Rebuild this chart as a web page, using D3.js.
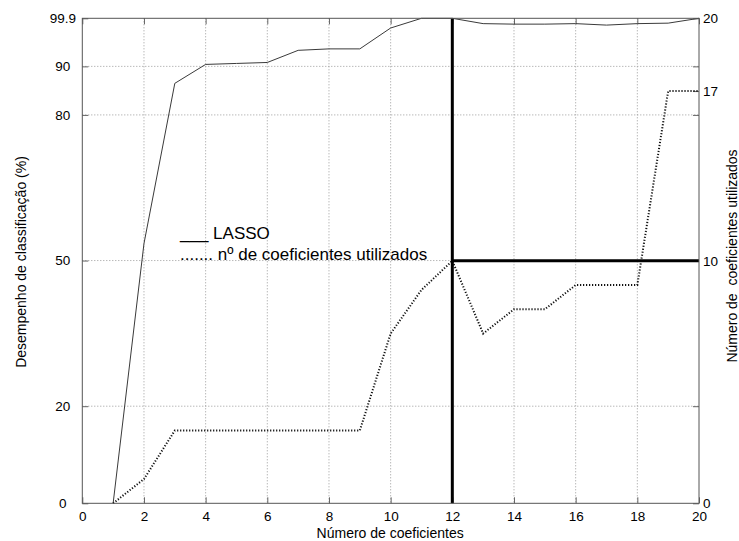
<!DOCTYPE html>
<html lang="pt">
<head>
<meta charset="UTF-8">
<title>LASSO</title>
<script src="https://cdnjs.cloudflare.com/ajax/libs/d3/7.8.5/d3.min.js"></script>
<style>
  body { margin: 0; background: #fff; }
  text { font-family: "Liberation Sans", Arial, sans-serif; fill: #000; }
</style>
</head>
<body>
<div id="chart"></div>
<script>

// numero de coeficientes (eixo x)
var nCoef = [1, 2, 3, 4, 5, 6, 7, 8, 9, 10, 11, 12, 13, 14, 15, 16, 17, 18, 19, 20];
// desempenho LASSO (%)
var lasso = [0, 53.5, 86.5, 90.4, 90.6, 90.8, 93.3, 93.6, 93.6, 97.9, 99.9, 99.9, 98.8, 98.7, 98.7, 98.8, 98.5, 98.8, 98.9, 99.9];
// numero de coeficientes utilizados
var usados = [0, 1, 3, 3, 3, 3, 3, 3, 3, 7, 8.8, 10, 7, 8, 8, 9, 9, 9, 17, 17];

var xTicks = [0, 2, 4, 6, 8, 10, 12, 14, 16, 18, 20];
var leftTicks = [0, 20, 50, 80, 90, 99.9];
var leftGrid = [20, 50, 80, 90];
var rightTicks = [0, 10, 17, 20];
var selPoint = [12, 10];   // linhas grossas (12 coeficientes, 10 utilizados)

var width = 739, height = 541;
var pLeft = 82.3, pRight = 699, pTop = 18.3, pBottom = 503.3;

var svg = d3.select('#chart').append('svg')
  .attr('width', width)
  .attr('height', height);

var x = d3.scaleLinear().domain([0, 20]).range([pLeft, pRight]);
var yL = d3.scaleLinear().domain([0, 99.9]).range([pBottom, pTop]);
var yR = d3.scaleLinear().domain([0, 20]).range([pBottom, pTop]);

// grid
var grid = svg.append('g')
  .attr('stroke', '#9a9a9a')
  .attr('stroke-width', 1)
  .attr('stroke-dasharray', '1,2');
grid.selectAll('.vg')
  .data(xTicks.filter(function(d) { return d > 0 && d < 20; }))
  .enter().append('line')
  .attr('x1', function(d) { return x(d); })
  .attr('x2', function(d) { return x(d); })
  .attr('y1', pTop)
  .attr('y2', pBottom);
grid.selectAll('.hg')
  .data(leftGrid)
  .enter().append('line')
  .attr('x1', pLeft)
  .attr('x2', pRight)
  .attr('y1', function(d) { return yL(d); })
  .attr('y2', function(d) { return yL(d); });

// axes (ticks inward)
function styleAxis(g) {
  g.selectAll('.domain').remove();
  g.selectAll('.tick line').attr('stroke', '#666');
  g.selectAll('.tick text')
    .style('font-family', '"Liberation Sans", Arial, sans-serif')
    .style('font-size', '13.5px')
    .attr('fill', '#000');
}

svg.append('g')
  .attr('transform', 'translate(0,' + pBottom + ')')
  .call(d3.axisBottom(x).tickValues(xTicks).tickSizeInner(-6).tickSizeOuter(0).tickPadding(8).tickFormat(d3.format('d')))
  .call(styleAxis);

svg.append('g')
  .attr('transform', 'translate(0,' + pTop + ')')
  .call(d3.axisTop(x).tickValues(xTicks).tickSizeInner(-6).tickSizeOuter(0).tickFormat(''))
  .call(styleAxis);

svg.append('g')
  .attr('transform', 'translate(' + pLeft + ',0)')
  .call(d3.axisLeft(yL).tickValues(leftTicks).tickSizeInner(-6).tickSizeOuter(0).tickFormat(function(d) { return String(d); }))
  .call(styleAxis)
  .call(function(g) {
    g.selectAll('.tick text').attr('text-anchor', 'middle').attr('x', -19.5);
  });

svg.append('g')
  .attr('transform', 'translate(' + pRight + ',0)')
  .call(d3.axisRight(yL).tickValues(leftGrid).tickSizeInner(-6).tickSizeOuter(0).tickFormat(''))
  .call(styleAxis);

svg.append('g')
  .attr('transform', 'translate(' + pRight + ',0)')
  .call(d3.axisRight(yR).tickValues(rightTicks).tickSizeInner(-6).tickSizeOuter(0).tickPadding(4).tickFormat(d3.format('d')))
  .call(styleAxis)
  .call(function(g) {
    g.selectAll('.tick text').attr('x', 4);
  });

// series
var lineL = d3.line()
  .x(function(d, i) { return x(nCoef[i]); })
  .y(function(d) { return yL(d); });
var lineR = d3.line()
  .x(function(d, i) { return x(nCoef[i]); })
  .y(function(d) { return yR(d); });

svg.append('path')
  .datum(lasso)
  .attr('d', lineL)
  .attr('fill', 'none')
  .attr('stroke', '#3a3a3a')
  .attr('stroke-width', 1);

svg.append('path')
  .datum(usados)
  .attr('d', lineR)
  .attr('fill', 'none')
  .attr('stroke', '#111')
  .attr('stroke-width', 2)
  .attr('stroke-dasharray', '1.2,1.8');

// linhas grossas de selecao
svg.append('line')
  .attr('x1', x(selPoint[0])).attr('x2', x(selPoint[0]))
  .attr('y1', pTop).attr('y2', pBottom)
  .attr('stroke', '#000').attr('stroke-width', 3);
svg.append('line')
  .attr('x1', x(selPoint[0])).attr('x2', pRight)
  .attr('y1', yR(selPoint[1])).attr('y2', yR(selPoint[1]))
  .attr('stroke', '#000').attr('stroke-width', 3);

// box
svg.append('rect')
  .attr('x', pLeft).attr('y', pTop)
  .attr('width', pRight - pLeft).attr('height', pBottom - pTop)
  .attr('fill', 'none')
  .attr('stroke', '#555')
  .attr('stroke-width', 1);

// legend (texto)
svg.append('text')
  .attr('x', 180).attr('y', 239)
  .style('font-size', '17px')
  .style('white-space', 'pre')
  .text('___ LASSO');
svg.append('text')
  .attr('x', 180).attr('y', 260)
  .style('font-size', '17px')
  .style('white-space', 'pre')
  .text('....... nº de coeficientes utilizados');

// axis titles
svg.append('text')
  .attr('x', (pLeft + pRight) / 2 - 0.5).attr('y', 538)
  .attr('text-anchor', 'middle')
  .style('font-size', '14px')
  .text('Número de coeficientes');

svg.append('text')
  .attr('transform', 'translate(26,262) rotate(-90)')
  .attr('text-anchor', 'middle')
  .style('font-size', '14px')
  .text('Desempenho de classificação (%)');

svg.append('text')
  .attr('transform', 'translate(736.5,256) rotate(-90)')
  .attr('text-anchor', 'middle')
  .style('font-size', '14px')
  .style('white-space', 'pre')
  .text('Número de  coeficientes utilizados');

</script>
</body>
</html>
